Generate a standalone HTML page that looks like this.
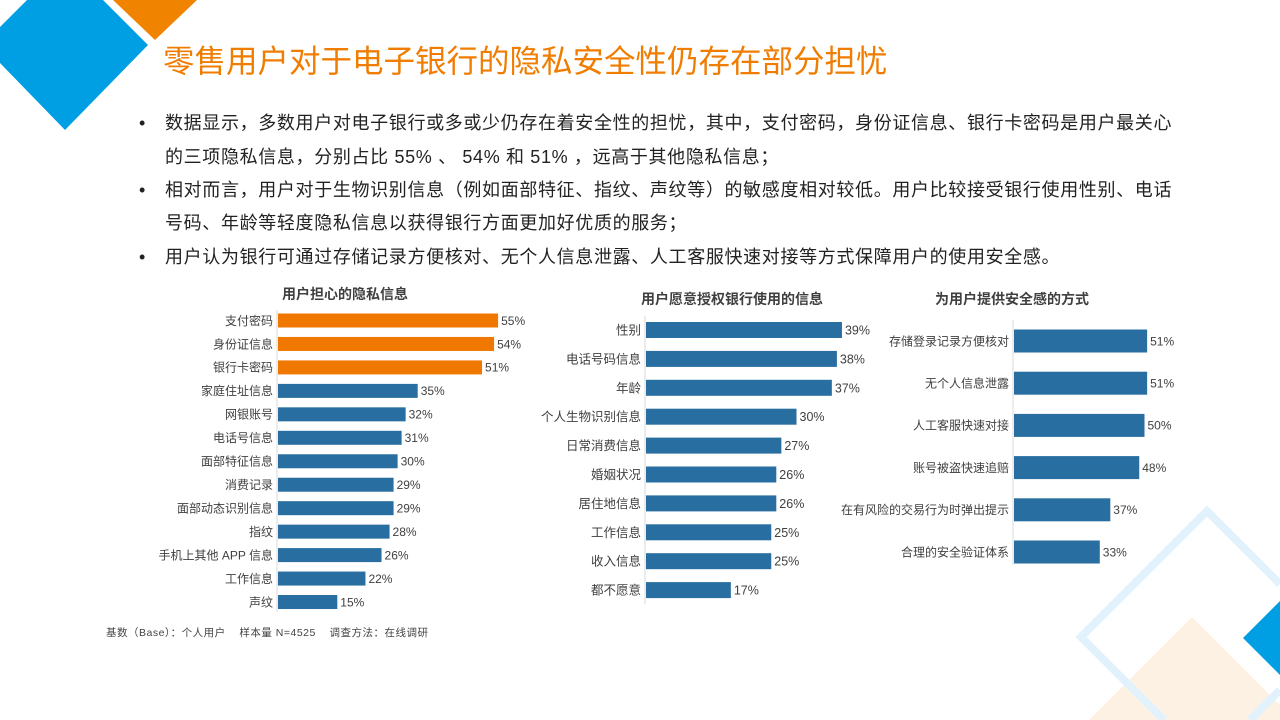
<!DOCTYPE html>
<html><head><meta charset="utf-8">
<style>
html,body{margin:0;width:1280px;height:720px;overflow:hidden;}
body{background:#fff;position:relative;font-family:"Liberation Sans","Noto Sans CJK SC",sans-serif;}
#deco{position:absolute;left:0;top:0;overflow:hidden}
h1{position:absolute;left:163px;top:36px;margin:0;font-size:31.5px;font-weight:normal;color:#f07c00;white-space:nowrap;font-family:"Liberation Sans","Noto Sans CJK SC",sans-serif;}
.bl{position:absolute;left:165px;font-size:18px;color:#222;white-space:nowrap;letter-spacing:0.65px;line-height:20px}
.dot{position:absolute;left:139px;font-size:18px;color:#222;line-height:20px}
#foot{position:absolute;left:106px;top:625px;font-size:10.5px;color:#444;white-space:nowrap;letter-spacing:0.5px}
svg text{font-family:"Liberation Sans","Noto Sans CJK SC",sans-serif;}
</style></head><body>
<svg id="deco" width="1280" height="720">
<polygon points="27,0 103,0 148,45 65,130 0,63 0,27" fill="#009fe3"/>
<polygon points="113,0 197,0 155,40" fill="#f08300"/>
<polygon points="1192,617 1280,705 1280,720 1089,720" fill="#fdf1e4"/>
<polyline points="1280,584 1207,511 1081,637 1164,720" fill="none" stroke="#e2f2fc" stroke-width="8"/>
<line x1="1280" y1="690" x2="1250" y2="720" stroke="#e2f2fc" stroke-width="8"/>
<polygon points="1243,638 1280,601 1280,675" fill="#009fe3"/>
</svg>
<h1>零售用户对于电子银行的隐私安全性仍存在部分担忧</h1>
<div class="dot" style="top:113px">•</div>
<div class="bl" style="top:113px">数据显示，多数用户对电子银行或多或少仍存在着安全性的担忧，其中，支付密码，身份证信息、银行卡密码是用户最关心</div>
<div class="bl" style="top:147px">的三项隐私信息，分别占比 55% 、 54% 和 51% ，远高于其他隐私信息；</div>
<div class="dot" style="top:180px">•</div>
<div class="bl" style="top:180px">相对而言，用户对于生物识别信息（例如面部特征、指纹、声纹等）的敏感度相对较低。用户比较接受银行使用性别、电话</div>
<div class="bl" style="top:213px">号码、年龄等轻度隐私信息以获得银行方面更加好优质的服务；</div>
<div class="dot" style="top:247px">•</div>
<div class="bl" style="top:247px">用户认为银行可通过存储记录方便核对、无个人信息泄露、人工客服快速对接等方式保障用户的使用安全感。</div>
<svg id="charts" width="1280" height="720" style="position:absolute;left:0;top:0"></svg>
<div id="foot">基数（Base）：个人用户&nbsp;&nbsp;&nbsp;&nbsp;样本量 N=4525&nbsp;&nbsp;&nbsp;&nbsp;调查方法：在线调研</div>
<script>
const c1Cats=["支付密码","身份证信息","银行卡密码","家庭住址信息","网银账号","电话号信息","面部特征信息","消费记录","面部动态识别信息","指纹","手机上其他 APP 信息","工作信息","声纹"];
const c1Vals=[55,54,51,35,32,31,30,29,29,28,26,22,15];
const c2Cats=["性别","电话号码信息","年龄","个人生物识别信息","日常消费信息","婚姻状况","居住地信息","工作信息","收入信息","都不愿意"];
const c2Vals=[39,38,37,30,27,26,26,25,25,17];
const c3Cats=["存储登录记录方便核对","无个人信息泄露","人工客服快速对接","账号被盗快速追赔","在有风险的交易行为时弹出提示","合理的安全验证体系"];
const c3Vals=[51,51,50,48,37,33];
const NS="http://www.w3.org/2000/svg";
const svg=document.getElementById('charts');
function mk(t,a){const e=document.createElementNS(NS,t);for(const k in a)e.setAttribute(k,a[k]);svg.appendChild(e);return e;}
function chart(id,title,tx,ty,cats,vals,x0,ppu,y0,step,bh,fs,orangeN,axTop,axBot){
  const xs=v=>x0+v*ppu, ys=i=>y0+i*step;
  const t=mk('text',{x:tx,y:ty,'text-anchor':'middle','font-size':14,'font-weight':'bold',fill:'#404040'});t.textContent=title;
  
  
  const ax=mk('line',{x1:x0,x2:x0,y1:axTop,y2:axBot,stroke:'#d9d9d9','stroke-width':1});
  
  
  cats.forEach((c,i)=>{
    const r=mk('rect',{x:x0+1,y:ys(i)-bh/2,width:xs(vals[i])-x0-1,height:bh,fill:i<orangeN?'#f07800':'#286ea0'});
    
    
    const l=mk('text',{x:x0-4,y:ys(i)+fs*0.36,'text-anchor':'end','font-size':fs,fill:'#404040'});l.textContent=c;
    
    
    const v=mk('text',{x:xs(vals[i])+3,y:ys(i)+fs*0.36,'font-size':fs,fill:'#404040'});v.textContent=vals[i]+'%';
    
    
  });
}
chart('privacy-chart','用户担心的隐私信息',345,299,c1Cats,c1Vals,277,4.02,320.5,23.46,14,12,3,310,612);
chart('authorize-chart','用户愿意授权银行使用的信息',732,304,c2Cats,c2Vals,645,5.05,330,28.9,16,12.5,0,316,604);
chart('safety-chart','为用户提供安全感的方式',1012,304,c3Cats,c3Vals,1013,2.63,341,42.2,23,12,0,320,565);
</script>
</body></html>
